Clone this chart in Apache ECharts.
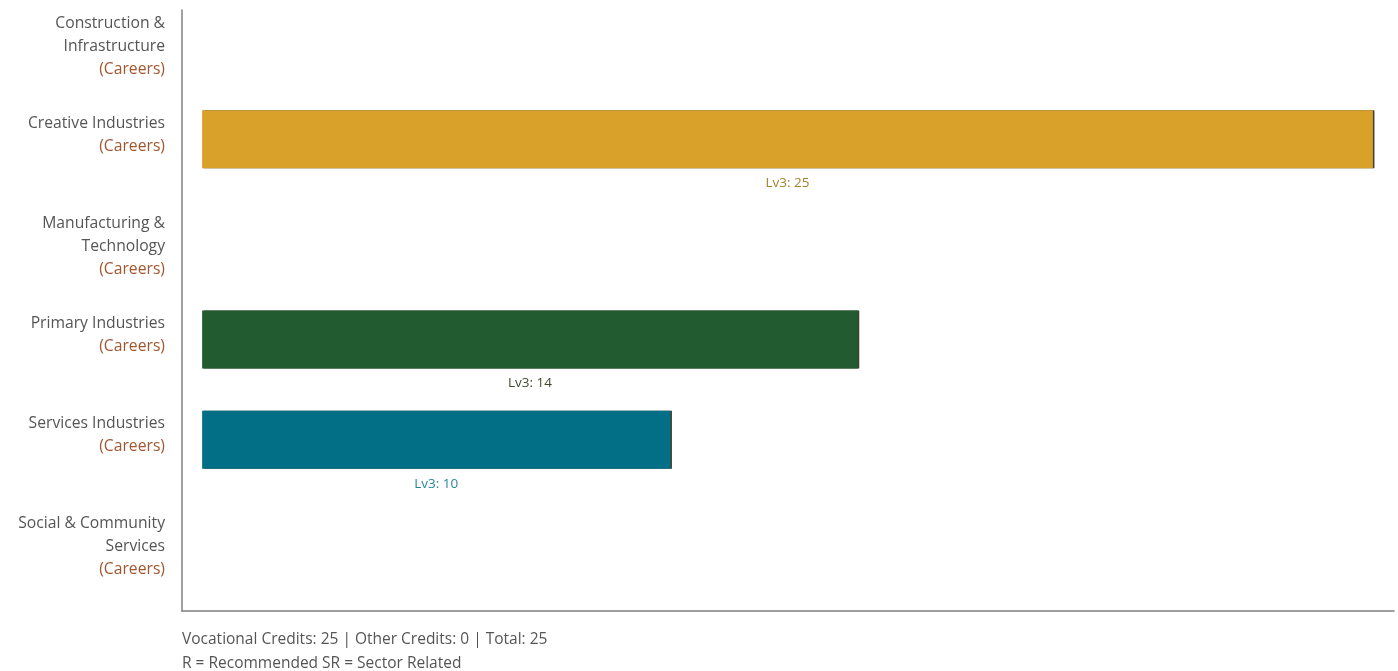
<!DOCTYPE html>
<html>
<head>
<meta charset="utf-8">
<script src="https://cdn.jsdelivr.net/npm/echarts@6/dist/echarts.min.js"></script>
<style>
html,body{margin:0;padding:0;background:#fff;}
#chart{width:1398px;height:671px;}
</style>
</head>
<body>
<div id="chart"></div>
<script>
// ---- data ----
const categories = [
  'Construction &\nInfrastructure',
  'Creative Industries',
  'Manufacturing &\nTechnology',
  'Primary Industries',
  'Services Industries',
  'Social & Community\nServices'
];
const categorySuffix = '(Careers)';
const lv3Values = [null, 25, null, 14, 10, null];
const seriesName = 'Lv3';
const barColors = ['#D9A02A', '#D9A02A', '#225B2F', '#225B2F', '#036F87', '#036F87'];
const labelColors = ['#A4832F', '#A4832F', '#3E4A2C', '#3E4A2C', '#2A86A0', '#2A86A0'];
const footerLines = [
  'Vocational Credits: 25 | Other Credits: 0 | Total: 25',
  'R = Recommended SR = Sector Related'
];

// ---- chart ----
const chart = echarts.init(document.getElementById('chart'), null, {renderer: 'canvas'});
const FONT = '"Open Sans"';

const mainData = lv3Values.map((v, i) => v == null ? '-' : {
  value: v,
  itemStyle: { color: barColors[i] },
  label: { color: labelColors[i] }
});
const spacerData = lv3Values.map(v => v == null ? '-' : v);

chart.setOption({
  animation: false,
  backgroundColor: '#ffffff',
  textStyle: { fontFamily: FONT },
  grid: { left: 182, right: 4, top: 10, bottom: 60, containLabel: false },
  title: {
    text: footerLines.join('\n'),
    left: 182, top: 628,
    padding: 0,
    textStyle: { fontFamily: FONT, fontSize: 15.5, fontWeight: 'normal', color: '#555555', lineHeight: 24 }
  },
  xAxis: {
    type: 'value',
    min: -0.43, max: 25.45,
    axisLine: { show: true, lineStyle: { color: '#7f7f7f', width: 1.5 } },
    axisTick: { show: false },
    axisLabel: { show: false },
    splitLine: { show: false }
  },
  yAxis: {
    type: 'category',
    inverse: true,
    data: categories,
    axisLine: { show: true, onZero: false, lineStyle: { color: '#7f7f7f', width: 1.5 } },
    axisTick: { show: false },
    splitLine: { show: false },
    axisLabel: {
      interval: 0,
      margin: 17,
      align: 'right',
      verticalAlign: 'middle',
      height: 100,
      padding: [3, 0, 0, 0],
      formatter: function (val) {
        return val.split('\n').map(l => '{n|' + l + '}').join('\n') + '\n{c|' + categorySuffix + '}';
      },
      rich: {
        n: { fontFamily: FONT, fontSize: 15.7, color: '#555555', lineHeight: 23, align: 'right' },
        c: { fontFamily: FONT, fontSize: 15.7, color: '#A0562F', lineHeight: 23, align: 'right' }
      }
    }
  },
  series: [
    {
      name: seriesName,
      type: 'bar',
      data: mainData,
      barWidth: 58,
      barGap: '0%',
      barCategoryGap: '0%',
      itemStyle: { shadowColor: 'rgba(30,30,10,0.85)', shadowOffsetX: 1.5, shadowOffsetY: 0, shadowBlur: 0 },
      label: {
        show: true,
        position: 'bottom',
        distance: 8,
        fontFamily: FONT,
        fontSize: 13.5,
        formatter: p => seriesName + ': ' + p.value
      }
    },
    {
      name: seriesName + ' spacer',
      type: 'bar',
      data: spacerData,
      barWidth: 42,
      barGap: '0%',
      silent: true,
      itemStyle: { color: 'rgba(0,0,0,0)' }
    }
  ]
});
</script>
</body>
</html>
